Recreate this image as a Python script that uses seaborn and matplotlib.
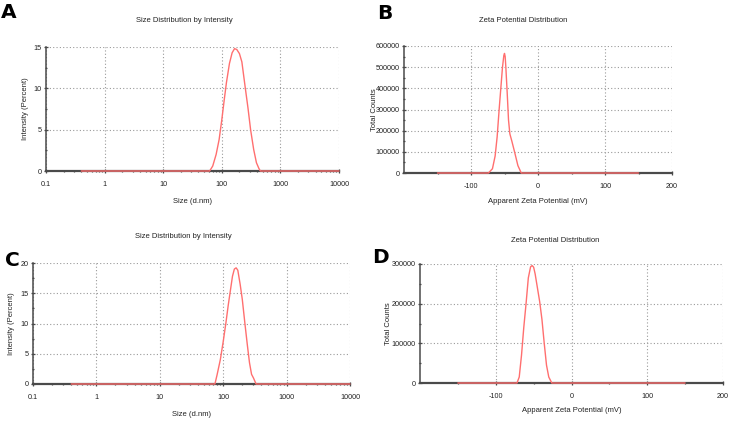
import numpy as np
import pandas as pd
import matplotlib
matplotlib.use('Agg')
import matplotlib.pyplot as plt
from matplotlib.ticker import FixedLocator, NullFormatter
from matplotlib import font_manager
import seaborn as sns

# size distribution A (d.nm vs intensity %)
size_a = [0.4, 62, 70, 80, 90, 100, 110, 120, 135, 150, 165, 180, 200, 220, 250, 280, 310, 350, 390, 430, 455, 10000]
intens_a = [0, 0, 0.6, 2.0, 3.8, 6.2, 8.6, 10.7, 13.0, 14.3, 14.8, 14.7, 14.2, 13.2, 10.2, 7.6, 5.0, 2.6, 1.0, 0.3, 0, 0]

# zeta potential B
zeta_b = [-150, -74, -68, -64, -61, -58, -55, -53, -51, -50, -49, -48, -46, -44, -42, -39, -35, -30, -25, 150]
counts_b = [0, 0, 20000, 80000, 170000, 300000, 420000, 500000, 555000, 565000, 550000, 500000, 380000, 250000,
            185000, 150000, 100000, 35000, 0, 0]

# size distribution C
size_c = [0.4, 74, 80, 90, 100, 110, 120, 130, 140, 150, 160, 170, 185, 200, 220, 240, 260, 280, 300, 330, 10000]
intens_c = [0, 0, 1.5, 4.0, 7.0, 10.0, 13.0, 15.5, 17.8, 19.0, 19.2, 18.8, 16.5, 14.0, 10.0, 6.5, 3.5, 1.6, 1.0, 0, 0]

# zeta potential D
zeta_d = [-150, -72, -69, -66, -63, -60, -57, -54, -52, -50, -48, -45, -42, -39, -36, -33, -30, -26, 150]
counts_d = [0, 0, 15000, 70000, 140000, 200000, 265000, 293000, 296000, 292000, 275000, 240000, 205000,
            160000, 100000, 45000, 15000, 0, 0]

size_ticks = [0.1, 1, 10, 100, 1000, 10000]
size_labels = ['0.1', '1', '10', '100', '1000', '10000']
zeta_ticks = [-100, 0, 100, 200]

sns.set_theme(style='white')
names = {f.name for f in font_manager.fontManager.ttflist}
narrow = 'Liberation Sans Narrow' if 'Liberation Sans Narrow' in names else 'Liberation Sans'
plt.rcParams['font.family'] = [narrow, 'DejaVu Sans']

W, H = 729, 421
fig = plt.figure(figsize=(W / 100, H / 100), dpi=100)


def px_axes(l, t, r, b):
    return fig.add_axes([l / W, (H - b) / H, (r - l) / W, (b - t) / H])


red = '#ff6f6f'
dark = '#4a4a4a'
fs = 5.2


def style(ax):
    for s in ['top', 'right']:
        ax.spines[s].set_visible(False)
    ax.spines['left'].set_color(dark)
    ax.spines['left'].set_linewidth(1.1)
    ax.spines['bottom'].set_color(dark)
    ax.spines['bottom'].set_linewidth(1.6)
    ax.grid(True, which='major', color='#9a9a9a', linestyle=(0, (1, 2)), linewidth=0.8)
    ax.tick_params(axis='x', which='major', direction='inout', length=3, width=0.9, color=dark,
                   labelsize=fs, pad=6, bottom=True, labelcolor='#222222')
    ax.tick_params(axis='y', which='major', direction='inout', length=3, width=0.9, color=dark,
                   labelsize=fs, pad=1.5, left=True, labelcolor='#222222')
    ax.tick_params(which='minor', direction='inout', length=2, width=0.9, color=dark,
                   left=True, bottom=True)


def size_panel(ax, x, y, ymax, ystep, ylabelx, xlabely):
    df = pd.DataFrame({'size': x, 'intensity': y})
    sns.lineplot(data=df, x='size', y='intensity', ax=ax, color=red, linewidth=1.0,
                 zorder=5, clip_on=False)
    ax.set_xscale('log')
    ax.set_xlim(0.1, 10000)
    ax.set_ylim(0, ymax)
    ax.set_xticks(size_ticks)
    ax.set_xticklabels(size_labels)
    minors = [m * 10.0 ** e for e in range(-1, 4) for m in range(2, 10)]
    ax.xaxis.set_minor_locator(FixedLocator(minors))
    ax.xaxis.set_minor_formatter(NullFormatter())
    ax.set_yticks(np.arange(0, ymax + 1, ystep))
    ax.yaxis.set_minor_locator(FixedLocator(np.arange(ystep / 2, ymax, ystep)))
    style(ax)
    ax.set_xlabel('Size (d.nm)', fontsize=fs + 0.3, color='#222222')
    ax.set_ylabel('Intensity (Percent)', fontsize=fs + 0.3, color='#222222')
    ax.yaxis.set_label_coords(ylabelx, 0.5)
    ax.xaxis.set_label_coords(0.5, xlabely)


def zeta_panel(ax, x, y, ymax, ylabelx, xlabely):
    df = pd.DataFrame({'zeta': x, 'counts': y})
    sns.lineplot(data=df, x='zeta', y='counts', ax=ax, color=red, linewidth=1.0,
                 zorder=5, clip_on=False)
    ax.set_xlim(-200, 200)
    ax.set_ylim(0, ymax)
    ax.set_xticks(zeta_ticks)
    ax.set_xticklabels([str(v) for v in zeta_ticks])
    ax.xaxis.set_minor_locator(FixedLocator([-150, -50, 50, 150]))
    ax.set_yticks(np.arange(0, ymax + 1, 100000))
    ax.set_yticklabels([str(int(v)) for v in np.arange(0, ymax + 1, 100000)])
    ax.yaxis.set_minor_locator(FixedLocator(np.arange(50000, ymax, 100000)))
    style(ax)
    ax.set_xlabel('Apparent Zeta Potential (mV)', fontsize=fs + 0.3, color='#222222')
    ax.set_ylabel('Total Counts', fontsize=fs + 0.3, color='#222222')
    ax.yaxis.set_label_coords(ylabelx, 0.5)
    ax.xaxis.set_label_coords(0.5, xlabely)


ax_a = px_axes(46, 47, 339, 171)
size_panel(ax_a, size_a, intens_a, 15, 5, -0.058, -0.22)
ax_b = px_axes(404, 46, 672, 173)
zeta_panel(ax_b, zeta_b, counts_b, 600000, -0.097, -0.2)
ax_c = px_axes(33, 263, 350, 384)
size_panel(ax_c, size_c, intens_c, 20, 5, -0.057, -0.22)
ax_d = px_axes(420, 264, 723, 383)
zeta_panel(ax_d, zeta_d, counts_d, 300000, -0.093, -0.2)

# titles
for tx, ty, txt in [(184, 20, 'Size Distribution by Intensity'), (523, 20, 'Zeta Potential Distribution'),
                    (183, 237, 'Size Distribution by Intensity'), (555, 241, 'Zeta Potential Distribution')]:
    fig.text(tx / W, 1 - ty / H, txt, fontsize=fs + 0.3, ha='center', va='center', color='#222222')

# panel letters
for tx, ty, txt in [(1, 3, 'A'), (377, 4, 'B'), (5, 251, 'C'), (372, 248, 'D')]:
    fig.text(tx / W, 1 - ty / H, txt, fontsize=14.5, fontweight='bold', ha='left', va='top',
             family='DejaVu Sans', color='black')

fig.savefig('out.png', dpi=100, facecolor='white')
